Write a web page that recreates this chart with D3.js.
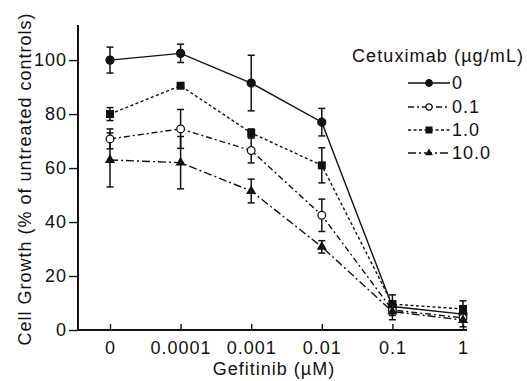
<!DOCTYPE html>
<html>
<head>
<meta charset="utf-8">
<script src="https://cdn.jsdelivr.net/npm/d3@7/dist/d3.min.js"></script>
<style>
  html, body { margin: 0; padding: 0; background: #fff; }
  svg { display: block; }
  text { font-family: "Liberation Sans", Arial, Helvetica, sans-serif; fill: #111; letter-spacing: 1px; }
</style>
</head>
<body>
<svg id="chart" width="527" height="381"></svg>
<script>
// ---- data ----
const categories = ["0", "0.0001", "0.001", "0.01", "0.1", "1"];
const seriesNames = ["0", "0.1", "1.0", "10.0"];
const values0   = [100, 102.5, 91.5, 77, 8.7, 5.9];
const values01  = [70.8, 74.5, 66.5, 42.5, 7.4, 4.5];
const values1   = [80, 90.5, 73, 61, 9.6, 7.8];
const values10  = [63, 62, 51.5, 30.8, 6.8, 3.7];
const err0   = [4.8, 3.4, 10.3, 5.1, 2, 1.5];
const err01  = [3.7, 7.2, 4.6, 6, 2, 1.5];
const err1   = [2.4, 0.6, 1.5, 6.5, 3.4, 3];
const err10  = [10, 9.7, 4.4, 2.3, 3, 2.5];
const yTicks = [0, 20, 40, 60, 80, 100];
const yMax = 113;
const xTitle = "Gefitinib (\u00b5M)";
const yTitle = "Cell Growth (% of untreated controls)";
const legendTitle = "Cetuximab (\u00b5g/mL)";

const series = [
  { name: seriesNames[0], values: values0,  err: err0,  marker: "circle",  fill: "#111", dash: null },
  { name: seriesNames[1], values: values01, err: err01, marker: "circle",  fill: "#fff", dash: "6,3,2,3" },
  { name: seriesNames[2], values: values1,  err: err1,  marker: "square",  fill: "#111", dash: "3,2.5" },
  { name: seriesNames[3], values: values10, err: err10, marker: "triangle",fill: "#111", dash: "8,3,2,3" }
];

// ---- layout ----
const svg = d3.select("#chart");
const axisX0 = 78, axisX1 = 467, axisY = 330, axisTop = 25;

const x = d3.scalePoint().domain(categories).range([110, 463]);
const y = d3.scaleLinear().domain([0, yMax]).range([axisY, axisTop]);

// axes
const yAxis = d3.axisLeft(y).tickValues(yTicks).tickSize(9).tickPadding(2).tickFormat(d3.format("d"));
const gy = svg.append("g").attr("transform", `translate(${axisX0},0)`).call(yAxis);
gy.select(".domain").remove();
gy.selectAll(".tick line").attr("stroke", "#111").attr("stroke-width", 1.4);
gy.selectAll(".tick text").attr("font-size", 18).attr("fill", "#111").attr("x", -11);

const xAxis = d3.axisBottom(x).tickSizeInner(-6).tickSizeOuter(0).tickPadding(11);
const gx = svg.append("g").attr("transform", `translate(0,${axisY})`).call(xAxis);
gx.select(".domain").remove();
gx.selectAll(".tick line").attr("stroke", "#111").attr("stroke-width", 1.4);
gx.selectAll(".tick text").attr("font-size", 18).attr("fill", "#111");

svg.append("line").attr("x1", axisX0).attr("x2", axisX0).attr("y1", axisTop).attr("y2", axisY + 1)
  .attr("stroke", "#111").attr("stroke-width", 2);
svg.append("line").attr("x1", axisX0 - 1).attr("x2", axisX1).attr("y1", axisY).attr("y2", axisY)
  .attr("stroke", "#111").attr("stroke-width", 2);

// titles
svg.append("text").attr("transform", "translate(31,179) rotate(-90)")
  .attr("text-anchor", "middle").attr("font-size", 18).text(yTitle);
svg.append("text").attr("x", 274).attr("y", 375)
  .attr("text-anchor", "middle").attr("font-size", 18).text(xTitle);

// marker drawing
function drawMarker(g, type, fill, size) {
  if (type === "circle") {
    g.append("circle").attr("r", fill === "#fff" ? size * 0.48 : size * 0.5)
      .attr("fill", fill).attr("stroke", "#111").attr("stroke-width", 1.3);
  } else if (type === "square") {
    g.append("rect").attr("x", -size / 2).attr("y", -size / 2).attr("width", size).attr("height", size)
      .attr("fill", fill);
  } else {
    g.append("path").attr("d", d3.symbol().type(d3.symbolTriangle).size(size * size * 0.55)())
      .attr("fill", fill);
  }
}

// series lines, error bars, markers
const line = d3.line().x((d, i) => x(categories[i])).y(d => y(d));
series.forEach(s => {
  svg.append("path").datum(s.values).attr("d", line)
    .attr("fill", "none").attr("stroke", "#111").attr("stroke-width", 1.4)
    .attr("stroke-dasharray", s.dash);
});
series.forEach(s => {
  const g = svg.append("g");
  s.values.forEach((v, i) => {
    const cx = x(categories[i]);
    const e = s.err[i];
    const eg = g.append("g").attr("stroke", "#111").attr("stroke-width", 1.5);
    eg.append("line").attr("x1", cx).attr("x2", cx).attr("y1", y(v - e)).attr("y2", y(v + e));
    eg.append("line").attr("x1", cx - 3.5).attr("x2", cx + 3.5).attr("y1", y(v - e)).attr("y2", y(v - e));
    eg.append("line").attr("x1", cx - 3.5).attr("x2", cx + 3.5).attr("y1", y(v + e)).attr("y2", y(v + e));
  });
});
series.forEach(s => {
  s.values.forEach((v, i) => {
    const mg = svg.append("g").attr("transform", `translate(${x(categories[i])},${y(v)})`);
    drawMarker(mg, s.marker, s.fill, s.marker === "square" ? 8 : (s.marker === "triangle" ? 9 : 8));
  });
});

// legend
svg.append("text").attr("x", 352).attr("y", 62).attr("font-size", 18)
  .style("letter-spacing", "1.1px").text(legendTitle);
const legendY = [83, 107, 130, 153];
series.forEach((s, i) => {
  const g = svg.append("g").attr("transform", `translate(0,${legendY[i]})`);
  g.append("line").attr("x1", 408).attr("x2", 450).attr("y1", 0).attr("y2", 0)
    .attr("stroke", "#111").attr("stroke-width", 1.3).attr("stroke-dasharray", s.dash);
  const mg = g.append("g").attr("transform", "translate(429,0)");
  drawMarker(mg, s.marker, s.fill, s.marker === "circle" ? 6.5 : 7);
  g.append("text").attr("x", 452).attr("y", 0).attr("dy", "0.36em").attr("font-size", 18).text(s.name);
});
</script>
</body>
</html>
